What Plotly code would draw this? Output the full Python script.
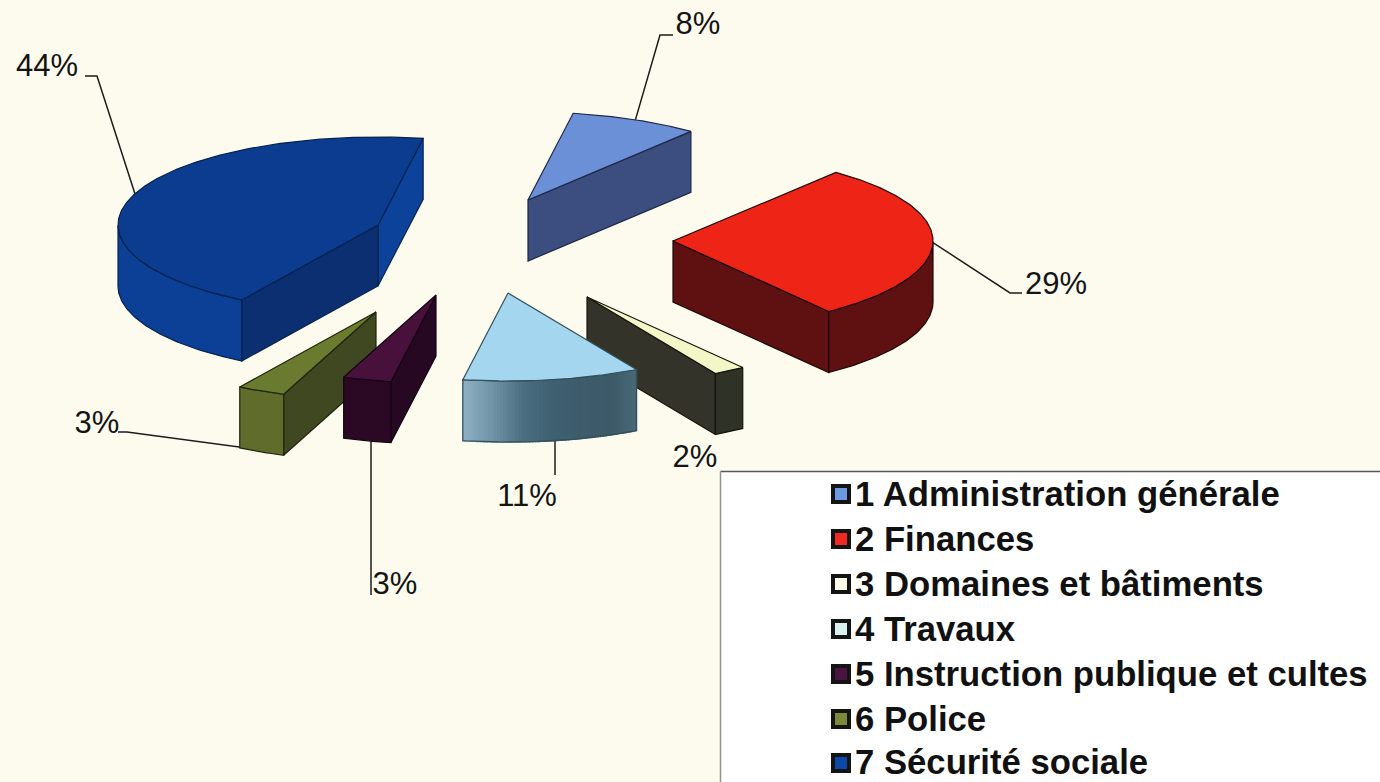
import math
import plotly.graph_objects as go

# ---- data ----
CATEGORIES = ["1 Administration générale", "2 Finances", "3 Domaines et bâtiments", "4 Travaux",
              "5 Instruction publique et cultes", "6 Police", "7 Sécurité sociale"]
VALUES = [8, 29, 2, 11, 3, 3, 44]

# ---- styles ----
TOP = ["#6c90d8", "#ee2416", "#f3f6c6", "#a4d7ef", "#47113c", "#6a7a2e", "#0b3c90"]
KEY = ["#6c9ae0", "#f02a20", "#fdfbe6", "#d8f2f0", "#4a1340", "#7a8a3a", "#0b48a8"]
SIDE_IN = ["#3c4d80", "#5e1110", "#33332a", "#3c5a68", "#260822", "#3f4820", "#0c2f72"]
SIDE_OUT = ["#3c4d80", "#5e1110", "#33332a", "#3c5a68", "#260822", "#3f4820", "#0d429a"]
ARC = [["#3c4d80"], ["#5e1110"], ["#2e3227"], ["#8db1c2", "#6f93a5", "#4b6e80", "#3f6071", "#3e5c6b", "#3c5a68", "#4a6a78"],
       ["#2b0824"], ["#606c2b"], ["#0c3f96"]]
EDGE = ["#1f2844", "#1e0706", "#15150f", "#33505a", "#140412", "#20260d", "#07234f"]
PAINT_ORDER = [6, 0, 1, 2, 5, 4, 3]
BG = "#fdfbee"

# ---- pie geometry (pixel plane of a tilted, exploded 3D pie) ----
START_DEG = 80.0
RX, RY, DEPTH = 260.0, 88.0, 61.0
APEX = [(528, 200), (673, 241), (587, 297), (508, 293), (436, 295), (376, 312), (378, 225)]
total = sum(VALUES)


def rim(i, deg):
    return APEX[i][0] + RX * math.cos(math.radians(deg)), APEX[i][1] - RY * math.sin(math.radians(deg))


def spans():
    out, a = [], START_DEG
    for v in VALUES:
        b = a - 360.0 * v / total
        out.append((a, b))
        a = b
    return out


SPANS = spans()
fig = go.Figure()


def poly(pts, fill, line, width=1.2):
    xs = [p[0] for p in pts] + [pts[0][0]]
    ys = [p[1] for p in pts] + [pts[0][1]]
    fig.add_trace(go.Scatter(x=xs, y=ys, mode="lines", fill="toself", fillcolor=fill,
                             line=dict(color=line, width=width), showlegend=False, hoverinfo="skip"))


def extruded(path):
    return path + [(x, y + DEPTH) for x, y in reversed(path)]


def mix(c1, c2, t):
    a = [int(c1[k:k + 2], 16) for k in (1, 3, 5)]
    b = [int(c2[k:k + 2], 16) for k in (1, 3, 5)]
    return "#%02x%02x%02x" % tuple(round(p + (q - p) * t) for p, q in zip(a, b))


# ---- leader lines: from the rim midpoint of a slice, through an elbow ----
LEADER_COLOR = "#1c1c1c"
LEADERS = {0: [(660, 35), (673, 35)], 1: [(1010, 293), (1022, 293)], 3: [(555, 475)],
           4: [(371, 595)], 5: [(127, 432), (118, 432)], 6: [(97, 76), (85, 76)]}
for i, tail in LEADERS.items():
    mid = (SPANS[i][0] + SPANS[i][1]) / 2
    x0, y0 = rim(i, mid)
    if i in (3, 4, 5):
        y0 += DEPTH - 2
    if i in (3, 4):
        x0 = tail[0][0]
    pts = [(x0, y0)] + tail
    fig.add_trace(go.Scatter(x=[p[0] for p in pts], y=[p[1] for p in pts], mode="lines",
                             line=dict(color=LEADER_COLOR, width=1.5), showlegend=False, hoverinfo="skip"))

for i in PAINT_ORDER:
    a, b = SPANS[i]
    n = max(6, int((a - b) * 1.5))
    arc = [rim(i, a + (b - a) * k / n) for k in range(n + 1)]
    apex = APEX[i]
    # side walls: a wall shows when its top edge runs leftwards in clockwise order
    if apex[0] < arc[-1][0]:
        poly(extruded([arc[-1], apex]), SIDE_OUT[i], EDGE[i])
    if arc[0][0] < apex[0]:
        poly(extruded([apex, arc[0]]), SIDE_IN[i], EDGE[i])
    # outer wall: only the part of the rim running leftwards
    vis = [p for k, p in enumerate(arc[:-1]) if arc[k + 1][0] < p[0]]
    if vis:
        vis = arc[arc.index(vis[0]):arc.index(vis[-1]) + 2]
    if len(vis) > 1:
        stops = ARC[i]
        if len(stops) == 1:
            poly(extruded(vis), stops[0], EDGE[i])
        else:
            m = len(vis) - 1
            for k in range(m):
                # gradient runs left to right across the wall
                t = (m - k - 0.5) / m * (len(stops) - 1)
                j = min(int(t), len(stops) - 2)
                col = mix(stops[j], stops[j + 1], t - j)
                poly(extruded(vis[k:k + 2]), col, col, 1.6)
            xs = [p[0] for p in extruded(vis)] + [vis[0][0]]
            ys = [p[1] for p in extruded(vis)] + [vis[0][1]]
            fig.add_trace(go.Scatter(x=xs, y=ys, mode="lines", line=dict(color=EDGE[i], width=1.2),
                                     showlegend=False, hoverinfo="skip"))
    # top face
    poly([apex] + arc, TOP[i], EDGE[i])

# ---- value labels ----
LABEL_POS = [(698, 26), (1056, 286), (695, 459), (527, 498), (395, 586), (97, 425), (47, 68)]
fig.add_trace(go.Scatter(x=[p[0] for p in LABEL_POS], y=[p[1] for p in LABEL_POS], mode="text",
                         text=[f"{v}%" for v in VALUES],
                         textfont=dict(family="Liberation Sans", size=31, color="#141414"),
                         textposition="middle center", showlegend=False, hoverinfo="skip"))

# ---- legend: keys and names ----
KEY_Y = [494, 539, 584, 629, 674, 719, 763]
NAME_Y = [497, 542, 587, 632, 677, 722, 765]
fig.add_trace(go.Scatter(x=[841] * len(CATEGORIES), y=KEY_Y, mode="markers", showlegend=False, hoverinfo="skip",
                         marker=dict(symbol="square", size=16, color=KEY, line=dict(color="#141414", width=4))))
fig.add_trace(go.Scatter(x=[855] * len(CATEGORIES), y=NAME_Y, mode="text", text=CATEGORIES,
                         textposition="middle right", showlegend=False, hoverinfo="skip",
                         textfont=dict(family="Liberation Sans", size=34.7, color="#111111", weight="bold")))

fig.update_layout(
    width=1380, height=782, margin=dict(l=0, r=0, t=0, b=0, autoexpand=False),
    paper_bgcolor=BG, plot_bgcolor=BG, hovermode=False, showlegend=False,
    xaxis=dict(range=[0, 1380], visible=False, fixedrange=True),
    yaxis=dict(range=[782, 0], visible=False, fixedrange=True),
    shapes=[dict(type="rect", xref="x", yref="y", x0=720.5, x1=1392, y0=471.5, y1=800, layer="below",
                 fillcolor="#ffffff", line=dict(width=0)),
            dict(type="line", xref="x", yref="y", x0=720.5, x1=1392, y0=471.5, y1=471.5, layer="below",
                 line=dict(color="#55585a", width=1.5)),
            dict(type="line", xref="x", yref="y", x0=720.5, x1=720.5, y0=471.5, y1=800, layer="below",
                 line=dict(color="#8f9294", width=1.5))],
)
fig.write_html("out.html", post_script="document.body.style.margin='0';",
               config={"displayModeBar": False})
